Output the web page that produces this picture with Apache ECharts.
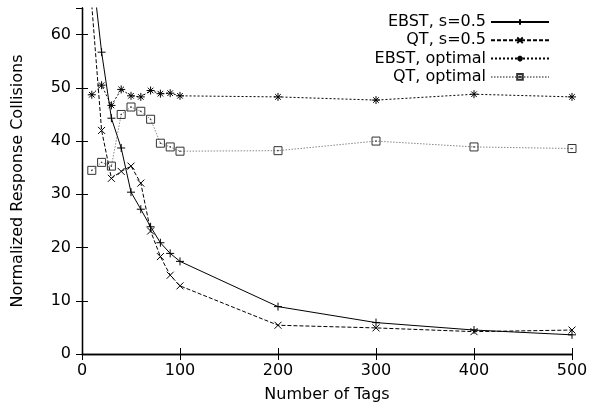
<!DOCTYPE html>
<html>
<head>
<meta charset="utf-8">
<script src="https://cdn.jsdelivr.net/npm/echarts@6/dist/echarts.min.js"></script>
<style>html,body{margin:0;padding:0;background:#fff}#c{width:591px;height:412px}</style>
</head>
<body>
<div id="c"></div>
<script>
var tags = [10, 20, 30, 40, 50, 60, 70, 80, 90, 100, 200, 300, 400, 500];
var ebstHalf = [73, 56.7, 44.3, 38.7, 30.4, 27.2, 23.9, 20.9, 18.9, 17.4, 8.9, 5.9, 4.5, 3.6];
var qtHalf = [65.5, 42.0, 33.0, 34.3, 35.3, 32.1, 23.1, 18.3, 14.8, 12.8, 5.4, 4.9, 4.2, 4.5];
var ebstOpt = [48.7, 50.5, 46.7, 49.7, 48.5, 48.3, 49.5, 48.9, 49.0, 48.5, 48.3, 47.7, 48.8, 48.3];
var qtOpt = [34.5, 36.0, 35.3, 45.0, 46.4, 45.6, 44.1, 39.6, 38.9, 38.1, 38.2, 40.0, 38.9, 38.6];
var seriesNames = ['EBST, s=0.5', 'QT, s=0.5', 'EBST, optimal', 'QT, optimal'];
var xTicks = [0, 100, 200, 300, 400, 500];
var yTicks = [0, 10, 20, 30, 40, 50, 60];

function pairs(vals) { return tags.map(function (t, i) { return [t, vals[i]]; }); }

var FONT = 'DejaVu Sans';
var plusSym = 'path://M0,5L10,5M5,0L5,10';
var crossSym = 'path://M0,0L10,10M10,0L0,10';
var starSym = 'path://M0,5L10,5M5,0L5,10M1.5,1.5L8.5,8.5M8.5,1.5L1.5,8.5';
var boxSym = 'path://M0,0L10,0L10,10L0,10ZM4.6,4.6L5.4,4.6L5.4,5.4L4.6,5.4Z';

function mk(name, vals, sym, size, lineType, lineColor, symColor) {
  return {
    name: name, type: 'line', data: pairs(vals), symbol: sym, symbolSize: size,
    showAllSymbol: true, clip: true, animation: false,
    lineStyle: { color: lineColor, width: 1, type: lineType },
    itemStyle: { color: 'rgba(0,0,0,0)', borderColor: symColor, borderWidth: 1 },
    emphasis: { disabled: true }
  };
}

var axisCommon = {
  type: 'value',
  axisLine: { show: true, lineStyle: { color: '#000', width: 1.3 } },
  axisTick: { show: true, inside: true, length: 6, lineStyle: { color: '#000', width: 1 } },
  splitLine: { show: false }
};

var chart = echarts.init(document.getElementById('c'), null, { renderer: 'canvas' });
chart.setOption({
  backgroundColor: '#fff',
  animation: false,
  grid: { left: 82, right: 19, top: 8, bottom: 58 },
  legend: {
    orient: 'vertical', right: 36, top: 9, align: 'right',
    itemWidth: 58, itemHeight: 7, itemGap: 2.3,
    textStyle: { fontFamily: FONT, fontSize: 16, color: '#000' },
    data: seriesNames, selectedMode: false
  },
  xAxis: [
    Object.assign({}, axisCommon, {
      min: 0, max: 500, interval: 100, position: 'bottom',
      name: 'Number of Tags', nameLocation: 'middle', nameGap: 33,
      nameTextStyle: { fontFamily: FONT, fontSize: 16, color: '#000' },
      axisLabel: { margin: 9, fontFamily: FONT, fontSize: 16, color: '#000',
        formatter: function (v) { return xTicks.indexOf(v) >= 0 ? String(v) : ''; } }
    }),
    Object.assign({}, axisCommon, {
      min: 0, max: 500, interval: 100, position: 'top', axisLabel: { show: false }
    })
  ],
  yAxis: [
    Object.assign({}, axisCommon, {
      min: 0, max: 65, interval: 10, position: 'left',
      name: 'Normalized Response Collisions', nameLocation: 'middle', nameGap: 56,
      nameTextStyle: { fontFamily: FONT, fontSize: 16, color: '#000' },
      axisLabel: { margin: 11, fontFamily: FONT, fontSize: 16, color: '#000', showMaxLabel: false,
        formatter: function (v) { return yTicks.indexOf(v) >= 0 ? String(v) : ''; } }
    }),
    Object.assign({}, axisCommon, {
      min: 0, max: 65, interval: 10, position: 'right', axisLabel: { show: false }
    })
  ],
  series: [
    mk(seriesNames[0], ebstHalf, plusSym, 8, 'solid', '#000', '#000'),
    mk(seriesNames[1], qtHalf, crossSym, 7, [4, 2], '#000', '#000'),
    mk(seriesNames[2], ebstOpt, starSym, 8, [2, 2], '#000', '#000'),
    mk(seriesNames[3], qtOpt, boxSym, 8, [1.5, 1.5], '#888', '#333')
  ]
});
</script>
</body>
</html>
